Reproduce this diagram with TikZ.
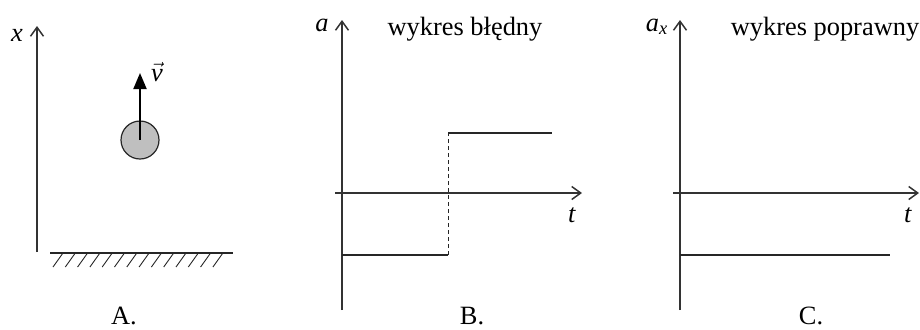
\documentclass[tikz,border=0pt]{standalone}
\usepackage{fontspec}
\setmainfont{Liberation Serif}
\usetikzlibrary{arrows.meta}

\begin{document}
\begin{tikzpicture}[x=0.5pt, y=-0.5pt,
    every node/.style={font=\fontsize{13.2}{15}\selectfont, inner sep=0pt},
    axis/.style={line width=0.75pt, draw=black!80, -{Straight Barb[length=4.5pt,width=6.5pt]}},
    graph/.style={line width=1pt, draw=black!85}]
	\useasboundingbox (0,0) rectangle (920,329);
	% A: oś x, podłoże, kulka
	\coordinate (xbot) at (37,252);
	\coordinate (xtop) at (37,26);
	\draw[axis] (xbot) -- (xtop);
	\node[anchor=base] (labx) at (17,41) {\textit{x}};
	\coordinate (groundL) at (50,253);
	\coordinate (groundR) at (233,253);
	\draw[line width=0.7pt, black!85] (groundL) -- (groundR);
	\foreach \i in {0,...,13}
		\draw[line width=0.45pt, black!85] (53+12.3*\i,267) -- ++(10,-14);
	\node[circle, draw=black!85, line width=0.6pt, fill=black!25, minimum size=19pt] (ball) at (140,140) {};
	\coordinate (vtip) at (140,73);
	\draw[line width=1pt, -{Triangle[length=8pt,width=6.5pt]}] (ball.center) -- (vtip);
	\node[anchor=base] (labv) at (157,81) {$\vec{\mbox{\textit{v}}}$};
	\node[anchor=base] (labA) at (124,324) {A.};
	% B: wykres błędny
	\coordinate (aBbot) at (342,310);
	\coordinate (aBtop) at (342,20);
	\coordinate (tBl) at (335,193);
	\coordinate (tBr) at (582,193);
	\draw[axis] (aBbot) -- (aBtop);
	\draw[axis] (tBl) -- (tBr);
	\node[anchor=base] (laba) at (322,31) {\textit{a}};
	\node[anchor=base] (labtB) at (572,222) {\textit{t}};
	\node[anchor=base] (titleB) at (465,35) {wykres błędny};
	\coordinate (lowB0) at (342,255);
	\coordinate (lowB1) at (448,255);
	\coordinate (upB0) at (448,133);
	\coordinate (upB1) at (552,133);
	\draw[graph] (lowB0) -- (lowB1);
	\draw[line width=0.5pt, black!85, dash pattern=on 2pt off 1.5pt] (lowB1) -- (upB0);
	\draw[graph] (upB0) -- (upB1);
	\node[anchor=base] (labB) at (472,324) {B.};
	% C: wykres poprawny
	\coordinate (aCbot) at (680,310);
	\coordinate (aCtop) at (680,20);
	\coordinate (tCl) at (673,193);
	\coordinate (tCr) at (919,193);
	\draw[axis] (aCbot) -- (aCtop);
	\draw[axis] (tCl) -- (tCr);
	\node[anchor=base] (labax) at (657,31) {\textit{a}\textsubscript{\textit{x}}};
	\node[anchor=base] (labtC) at (908,222) {\textit{t}};
	\node[anchor=base] (titleC) at (825,35) {wykres poprawny};
	\coordinate (lowC0) at (680,255);
	\coordinate (lowC1) at (890,255);
	\draw[graph] (lowC0) -- (lowC1);
	\node[anchor=base] (labC) at (811,324) {C.};
\end{tikzpicture}
\end{document}
